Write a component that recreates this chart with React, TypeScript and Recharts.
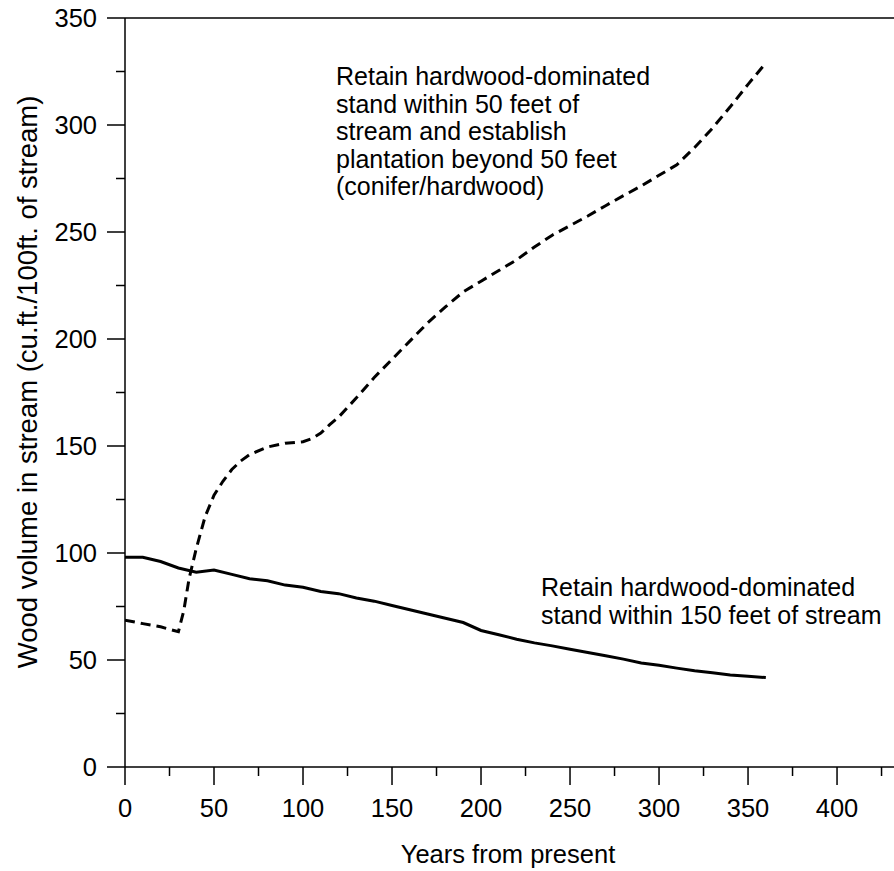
import { LineChart, Line, XAxis, YAxis, ReferenceLine } from "recharts"

// retain hardwood-dominated stand within 150 ft (solid)
const solidYears = [0, 10, 20, 30, 40, 50, 60, 70, 80, 90, 100, 110, 120, 130, 140, 150, 160, 170, 180, 190, 200, 210, 220, 230, 240, 250, 260, 270, 280, 290, 300, 310, 320, 330, 340, 350, 360]
const solidValues = [98, 98, 96, 93, 91, 92, 90, 88, 87, 85, 84, 82, 81, 79, 77.5, 75.5, 73.5, 71.5, 69.5, 67.5, 63.8, 61.8, 59.7, 58, 56.6, 55, 53.5, 52, 50.4, 48.6, 47.5, 46.2, 45, 44, 43, 42.4, 41.8]

// retain within 50 ft + plantation beyond (dashed)
const dashedYears = [0, 10, 20, 30, 33, 36, 40, 45, 50, 55, 60, 65, 70, 80, 90, 100, 105, 110, 115, 120, 130, 140, 150, 160, 170, 180, 190, 200, 210, 220, 230, 240, 250, 260, 270, 280, 290, 300, 310, 320, 330, 340, 350, 360]
const dashedValues = [68.6, 67, 65.5, 63.2, 73, 88, 102, 117, 127, 133.5, 139, 143, 146, 149.5, 151.3, 152, 153.5, 156, 160, 163.5, 172.5, 182, 190.5, 199, 207.5, 215, 222, 227, 232, 237, 243, 248.5, 253, 257.5, 262.3, 267, 271.5, 276.5, 281.4, 289.5, 298.5, 308.5, 319, 329]

const xTicks = [0, 25, 50, 75, 100, 125, 150, 175, 200, 225, 250, 275, 300, 325, 350, 375, 400, 425]
const yTicks = [0, 25, 50, 75, 100, 125, 150, 175, 200, 225, 250, 275, 300, 325, 350]

const upperNote = [
  "Retain hardwood-dominated",
  "stand within 50 feet of",
  "stream and establish",
  "plantation beyond 50 feet",
  "(conifer/hardwood)",
]
const lowerNote = ["Retain hardwood-dominated", "stand within 150 feet of stream"]

const solidData = solidYears.map((year, i) => ({ year, value: solidValues[i] }))
const dashedData = dashedYears.map((year, i) => ({ year, value: dashedValues[i] }))

const FONT = "'Liberation Sans', Arial, Helvetica, sans-serif"

const XTick = (props: any) => {
  const { x, y, payload } = props
  const major = payload.value % 50 === 0
  return (
    <g>
      <line x1={x} x2={x} y1={y} y2={y + (major ? 18 : 9)} stroke="#000" strokeWidth={1.5} />
      {major && (
        <text x={x} y={y + 50} textAnchor="middle" fontSize={25.5} fontFamily={FONT} fill="#000">
          {payload.value}
        </text>
      )}
    </g>
  )
}

const YTick = (props: any) => {
  const { x, y, payload } = props
  const major = payload.value % 50 === 0
  return (
    <g>
      <line x1={x - (major ? 18 : 9)} x2={x} y1={y} y2={y} stroke="#000" strokeWidth={1.5} />
      {major && (
        <text x={x - 28} y={y + 9} textAnchor="end" fontSize={25.5} fontFamily={FONT} fill="#000">
          {payload.value}
        </text>
      )}
    </g>
  )
}

export default function App() {
  return (
    <div style={{ position: "absolute", left: 0, top: 0, background: "#fff" }}>
      <LineChart width={894} height={871} margin={{ top: 18, right: 0, bottom: 0, left: 0 }}>
        <XAxis
          dataKey="year"
          type="number"
          domain={[0, 432]}
          ticks={xTicks}
          interval={0}
          tickSize={0}
          tickMargin={0}
          tickLine={false}
          tick={<XTick />}
          height={104}
          axisLine={{ stroke: "#000", strokeWidth: 1.5 }}
          allowDataOverflow
        />
        <YAxis
          type="number"
          domain={[0, 350]}
          ticks={yTicks}
          interval={0}
          tickSize={0}
          tickMargin={0}
          tickLine={false}
          tick={<YTick />}
          width={125}
          axisLine={{ stroke: "#000", strokeWidth: 1.5 }}
        />
        <ReferenceLine y={350} stroke="#000" strokeWidth={1.5} />
        <Line
          data={solidData}
          dataKey="value"
          type="linear"
          stroke="#000"
          strokeWidth={3}
          dot={false}
          activeDot={false}
          isAnimationActive={false}
        />
        <Line
          data={dashedData}
          dataKey="value"
          type="linear"
          stroke="#000"
          strokeWidth={3}
          strokeDasharray="10 6"
          dot={false}
          activeDot={false}
          isAnimationActive={false}
        />
        <text x={508} y={863} textAnchor="middle" fontSize={25.5} fontFamily={FONT} fill="#000">
          Years from present
        </text>
        <text
          x={37}
          y={382}
          transform="rotate(-90 37 382)"
          textAnchor="middle"
          fontSize={27.5}
          fontFamily={FONT}
          fill="#000"
        >
          Wood volume in stream (cu.ft./100ft. of stream)
        </text>
        {upperNote.map((line, i) => (
          <text key={line} x={336} y={85 + i * 27.5} fontSize={25} fontFamily={FONT} fill="#000">
            {line}
          </text>
        ))}
        {lowerNote.map((line, i) => (
          <text key={line} x={541} y={596 + i * 27.5} fontSize={25} fontFamily={FONT} fill="#000">
            {line}
          </text>
        ))}
      </LineChart>
    </div>
  )
}
